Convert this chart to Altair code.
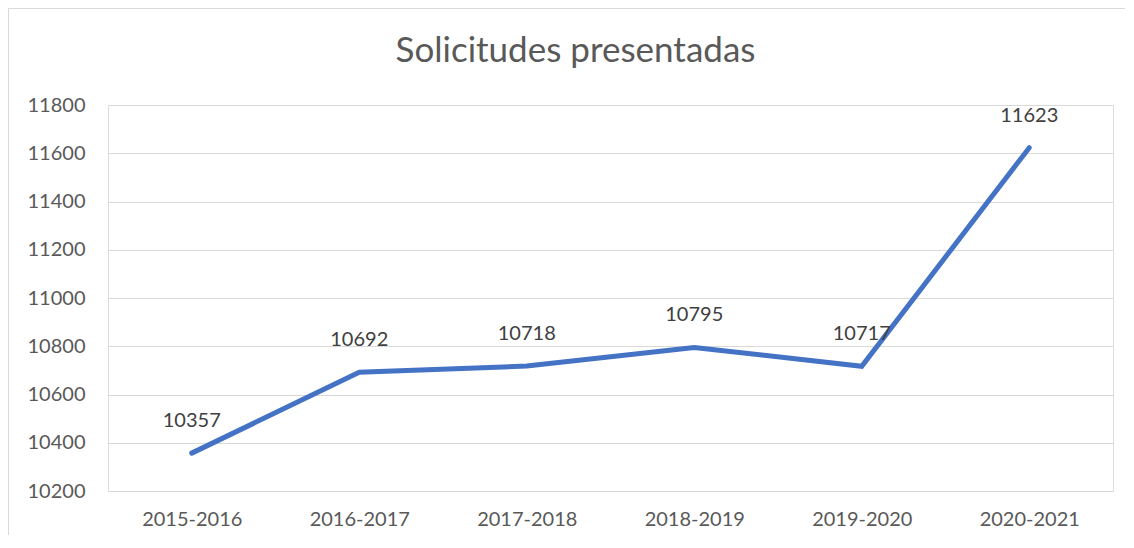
import altair as alt
import pandas as pd

periods = ["2015-2016", "2016-2017", "2017-2018", "2018-2019", "2019-2020", "2020-2021"]
values = [10357, 10692, 10718, 10795, 10717, 11623]
y_ticks = [10200, 10400, 10600, 10800, 11000, 11200, 11400, 11600, 11800]
title_text = "Solicitudes presentadas"

df = pd.DataFrame({"periodo": periods, "valor": values})
df_title = pd.DataFrame({"t": [title_text]})

W, H = 1005, 386
FONT = "Lato"

x_enc = alt.X("periodo:N", sort=periods,
              scale=alt.Scale(type="point", padding=0.5),
              axis=alt.Axis(title=None, labelAngle=0, labelFontSize=20, labelColor="#595959",
                            labelFont=FONT, labelPadding=18, ticks=False, domain=False, grid=False))
y_enc = alt.Y("valor:Q", scale=alt.Scale(domain=[10200, 11800], nice=False, zero=False),
              axis=alt.Axis(title=None, values=y_ticks, format="d", labelFontSize=20,
                            labelColor="#595959", labelFont=FONT, labelPadding=23,
                            ticks=False, domain=False,
                            grid=True, gridColor="#D9D9D9", gridWidth=1))

border = alt.Chart(df_title).mark_rect(fill="transparent", stroke="#D9D9D9", strokeWidth=1).encode(
    x=alt.value(-99.5), x2=alt.value(W + 100), y=alt.value(-96.5), y2=alt.value(H + 100)
)

title = alt.Chart(df_title).mark_text(fontSize=35, font=FONT, color="#595959",
                                      align="center", baseline="alphabetic").encode(
    x=alt.value(W / 2 - 35), y=alt.value(-43), text="t:N"
)

line = alt.Chart(df).mark_line(color="#4472C4", strokeWidth=5, strokeCap="round",
                               strokeJoin="miter").encode(x=x_enc, y=y_enc)

labels = alt.Chart(df).mark_text(dy=-32, fontSize=20, color="#404040", font=FONT,
                                 baseline="middle", align="center").encode(
    x=alt.X("periodo:N", sort=periods), y="valor:Q", text="valor:Q"
)

chart = alt.layer(border, title, line, labels).properties(
    width=W, height=H,
    autosize=alt.AutoSizeParams(type="none"),
    padding={"left": 100, "top": 97, "right": 12, "bottom": 44},
).configure_view(strokeWidth=0).configure(background="white")

chart.save("out.html", embed_options={"renderer": "svg", "actions": False})
